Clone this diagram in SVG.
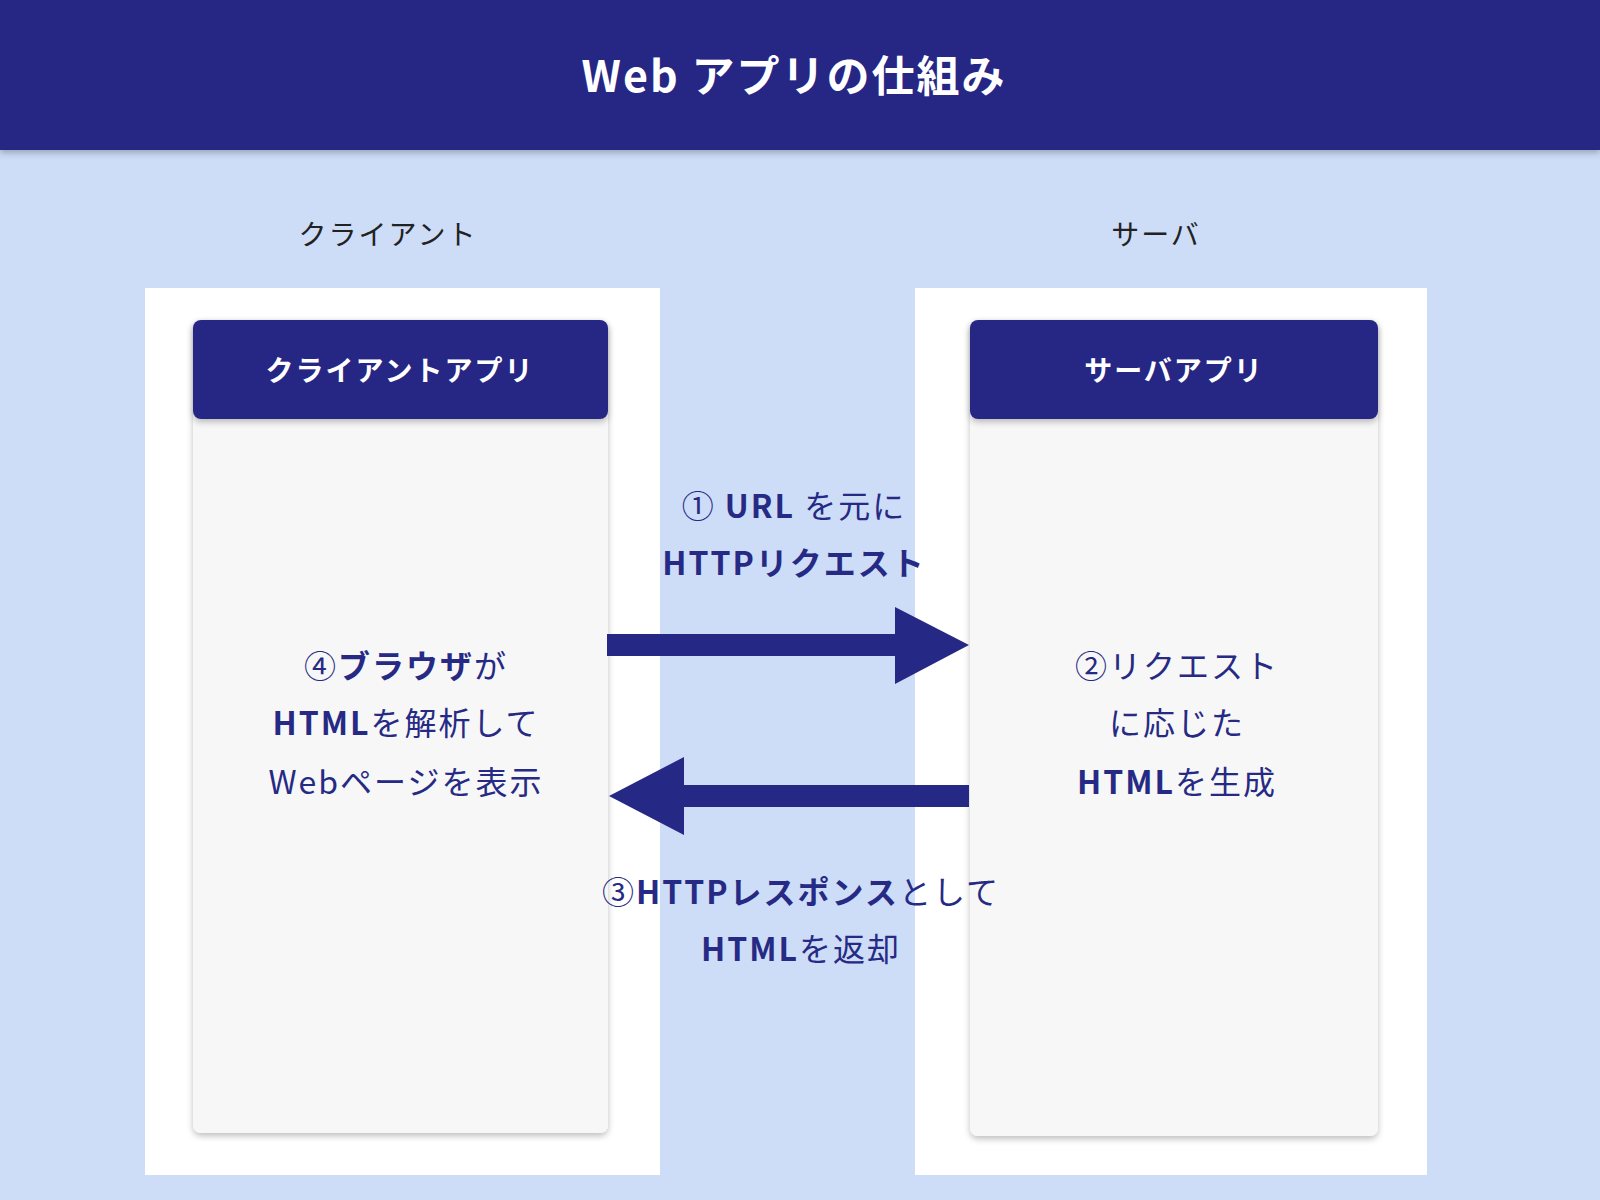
<svg xmlns="http://www.w3.org/2000/svg" width="1600" height="1200" viewBox="0 0 1600 1200">
<defs>
<style>
text{font-family:"Noto Sans CJK JP","Noto Sans",sans-serif;fill:#262a84;text-anchor:middle;dominant-baseline:central}
.b{font-weight:700}
.l{font-size:32px;letter-spacing:2px}
.h{fill:#fff;font-weight:700;letter-spacing:2px}
</style>
<filter id="sh" x="-10%" y="-10%" width="120%" height="120%"><feDropShadow dx="0" dy="3" stdDeviation="3" flood-color="#000" flood-opacity="0.25"/></filter>
</defs>
<rect width="1600" height="1200" fill="#cddcf7"/>
<rect width="1600" height="150" fill="#262885" filter="url(#sh)"/>
<text class="h" x="794" y="73" font-size="43">Web アプリの仕組み</text>
<text x="388" y="233" font-size="28" letter-spacing="2" style="fill:#222">クライアント</text>
<text x="1156" y="233" font-size="28" letter-spacing="2" style="fill:#222">サーバ</text>
<g id="client">
<rect x="145" y="288" width="515" height="887" fill="#fff"/>
<rect x="193" y="320" width="415" height="813" rx="8" fill="#f7f7f7" filter="url(#sh)"/>
<rect x="193" y="320" width="415" height="99" rx="8" fill="#262885" filter="url(#sh)"/>
<text class="h" x="400" y="369" font-size="28">クライアントアプリ</text>
<text class="l" x="406" y="664">④<tspan class="b">ブラウザ</tspan>が</text>
<text class="l" x="406" y="721"><tspan class="b">HTML</tspan>を解析して</text>
<text class="l" x="406" y="780">Webページを表示</text>
</g>
<g id="server">
<rect x="915" y="288" width="512" height="887" fill="#fff"/>
<rect x="970" y="320" width="408" height="816" rx="8" fill="#f7f7f7" filter="url(#sh)"/>
<rect x="970" y="320" width="408" height="99" rx="8" fill="#262885" filter="url(#sh)"/>
<text class="h" x="1174" y="369" font-size="28">サーバアプリ</text>
<text class="l" x="1177" y="664">②リクエスト</text>
<text class="l" x="1177" y="721">に応じた</text>
<text class="l" x="1177" y="780"><tspan class="b">HTML</tspan>を生成</text>
</g>
<g id="connectors">
<polygon points="607,634 895,634 895,607 969,645 895,684 895,656 607,656" fill="#262885"/>
<polygon points="969,785 684,785 684,757 609,796 684,835 684,807 969,807" fill="#262885"/>
<text class="l" x="794" y="504">① <tspan class="b">URL</tspan> を元に</text>
<text class="l b" x="794" y="561">HTTPリクエスト</text>
<text class="l" x="801" y="890">③<tspan class="b">HTTPレスポンス</tspan>として</text>
<text class="l" x="801" y="947"><tspan class="b">HTML</tspan>を返却</text>
</g>
</svg>
